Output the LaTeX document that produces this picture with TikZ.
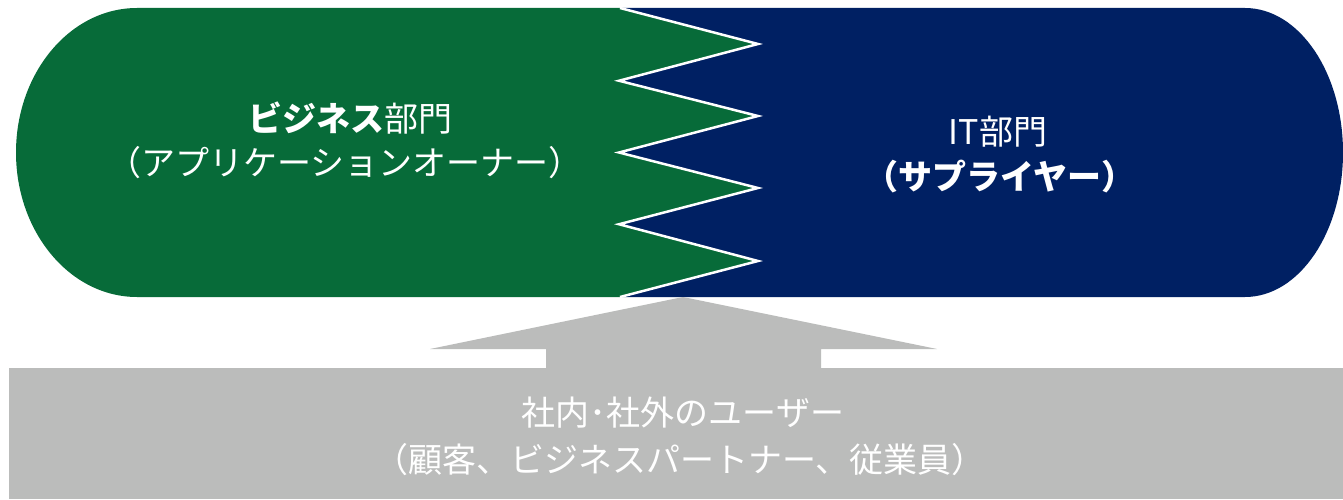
\documentclass[tikz,border=0pt]{standalone}
\usepackage{fontspec}
\setmainfont{Noto Sans CJK JP}
\definecolor{bizgreen}{HTML}{076B39}
\definecolor{itblue}{HTML}{002063}
\definecolor{usergray}{HTML}{BBBCBB}
\tikzset{
  lbl/.style={text=white, font=\fontsize{34}{40}\selectfont, inner sep=0pt, anchor=center},
  zig/.style={draw=white, line width=2.5pt, line join=miter},
}
\begin{document}
\begin{tikzpicture}[x=1pt,y=1pt]
\useasboundingbox (0,0) rectangle (1343,499);
% green left region
\fill[bizgreen] (620,491) -- (137,491) arc[start angle=90,end angle=270,x radius=121,y radius=144.5]
  -- (620,202) -- (758,238) -- (619,274.75) -- (758,311) -- (619,346.5) -- (758,383) -- (619,418.25) -- (758,455) -- cycle;
% blue right region
\fill[itblue] (620,491) -- (1245,491) arc[start angle=90,end angle=-90,x radius=98,y radius=144.5]
  -- (620,202) -- (758,238) -- (619,274.75) -- (758,311) -- (619,346.5) -- (758,383) -- (619,418.25) -- (758,455) -- cycle;
% zigzag border
\draw[zig] (620,202) -- (758,238) -- (619,274.75) -- (758,311) -- (619,346.5) -- (758,383) -- (619,418.25) -- (758,455) -- (620,491);
% gray user box and arrow
\fill[usergray] (9,0) rectangle (1343,131);
\fill[usergray] (546,130) -- (546,150) -- (430,150) -- (683,202) -- (937,150) -- (821,150) -- (821,130) -- cycle;
% labels
\node[lbl] (biz1) at (350,381) {{\bfseries ビジネス}部門};
\node[lbl] (biz2) at (345,336) {（アプリケーションオーナー）};
\node[lbl] (it1) at (998,367) {IT部門};
\node[lbl] (it2) at (1000,322) {\bfseries （サプライヤー）};
\node[lbl] (usr1) at (683,86) {社内･社外のユーザー};
\node[lbl] (usr2) at (680,39) {（顧客、ビジネスパートナー、従業員）};
\end{tikzpicture}
\end{document}
